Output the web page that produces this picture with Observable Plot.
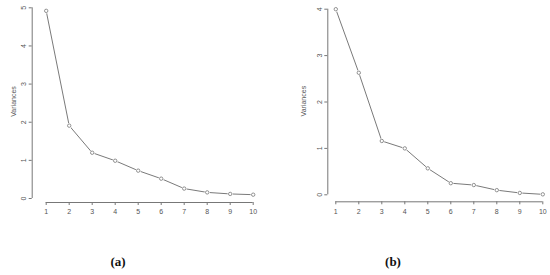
<!DOCTYPE html>
<html>
<head>
<meta charset="utf-8">
<script src="https://cdn.jsdelivr.net/npm/d3@7"></script>
<script src="https://cdn.jsdelivr.net/npm/@observablehq/plot@0.6"></script>
<style>
  body { margin: 0; background: #fff; width: 550px; height: 275px; position: relative; overflow: hidden; }
  .panel { position: absolute; top: 0; }
  .cap { position: absolute; font-family: "Liberation Serif", "DejaVu Serif", serif; font-weight: bold; font-size: 13px; color: #111; transform: translateX(-50%); }
</style>
</head>
<body>
<div id="a" class="panel" style="left:0px"></div>
<div id="b" class="panel" style="left:275px"></div>
<div class="cap" style="left:118px; top:254px">(a)</div>
<div class="cap" style="left:393px; top:254px">(b)</div>
<script>
const components = [1, 2, 3, 4, 5, 6, 7, 8, 9, 10];
const variancesA = [4.92, 1.91, 1.20, 0.99, 0.73, 0.52, 0.26, 0.16, 0.12, 0.10];
const variancesB = [4.00, 2.63, 1.16, 1.00, 0.57, 0.25, 0.21, 0.10, 0.04, 0.01];
const yTicksA = [0, 1, 2, 3, 4, 5];
const yTicksB = [0, 1, 2, 3, 4];
const yLabel = "Variances";

function panel(values, yTicks, g) {
  const data = components.map((c, i) => ({c, v: values[i]}));
  const ink = "#777";
  const yMax = yTicks[yTicks.length - 1];
  return Plot.plot({
    width: 275,
    height: 225,
    marginLeft: g.axisX,
    marginTop: 0,
    marginBottom: 225 - g.axisY,
    marginRight: 0,
    style: {fontFamily: "Liberation Sans, Arial, sans-serif", fontSize: "7px", color: "#555", background: "transparent"},
    x: {domain: [1, 10], range: [g.x1, g.x10]},
    y: {domain: [0, yMax], range: [g.y0, g.yTop]},
    marks: [
      Plot.axisX(components, {anchor: "bottom", tickSize: 3, tickPadding: 4, stroke: ink, label: null}),
      Plot.ruleY([0], {x1: 1, x2: 10, dy: g.axisY - g.y0, stroke: ink, strokeWidth: 1}),
      Plot.axisY(yTicks, {anchor: "left", tickSize: 3, tickPadding: 3, tickRotate: -90, stroke: ink,
        label: yLabel, labelAnchor: "center", labelArrow: "none", labelOffset: g.labelOffset}),
      Plot.ruleX([1], {y1: 0, y2: yMax, dx: g.axisX - g.x1, stroke: ink, strokeWidth: 1}),
      Plot.line(data, {x: "c", y: "v", stroke: "#7a7a7a", strokeWidth: 1}),
      Plot.dot(data, {x: "c", y: "v", r: 2.2, fill: "white", stroke: "white", strokeWidth: 1}),
      Plot.dot(data, {x: "c", y: "v", r: 1.7, fill: "white", stroke: "#777", strokeWidth: 0.8})
    ]
  });
}

document.getElementById("a").appendChild(panel(variancesA, yTicksA,
  {x1: 45.7, x10: 252.7, y0: 198, yTop: 7.3, axisX: 31.7, axisY: 202, labelOffset: 21}));
document.getElementById("b").appendChild(panel(variancesB, yTicksB,
  {x1: 60.3, x10: 267.3, y0: 194.3, yTop: 8.7, axisX: 52.3, axisY: 201.3, labelOffset: 27}));
</script>
</body>
</html>
